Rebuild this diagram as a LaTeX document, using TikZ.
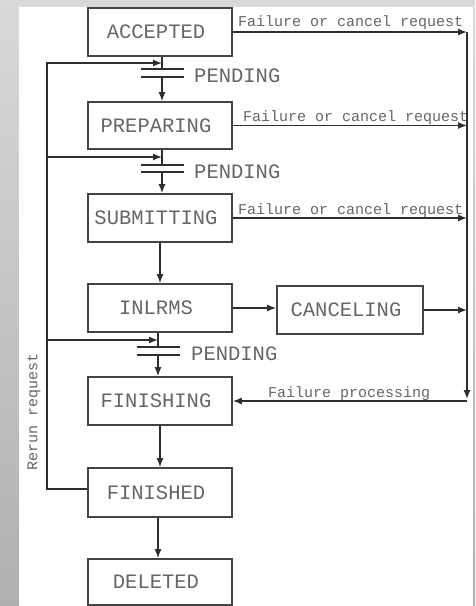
\documentclass[tikz,border=0pt]{standalone}
\usepackage{fontspec}
\setmonofont{Liberation Mono}
\usetikzlibrary{arrows.meta}
\definecolor{linec}{HTML}{2E2E2E}
\definecolor{boxc}{HTML}{444444}
\definecolor{textc}{HTML}{666666}
\definecolor{bgtop}{HTML}{D9D9D9}
\definecolor{bgbot}{HTML}{B0B0B0}
\begin{document}
\begin{tikzpicture}[x=1pt,y=-1pt,
  state/.style={draw=boxc, line width=1.7pt, minimum width=144pt, minimum height=48pt,
    inner sep=0pt, font=\ttfamily\fontsize{20.5}{22}\selectfont, text=textc,
    execute at end node={\kern8pt}},
  flow/.style={draw=linec, line width=1.3pt},
  arr/.style={flow, -{Latex[length=9pt,width=7pt]}},
  lbl/.style={font=\ttfamily\fontsize{15}{16}\selectfont, text=textc, inner sep=0pt},
  pendtext/.style={font=\ttfamily\fontsize{20.5}{22}\selectfont, text=textc, inner sep=0pt, anchor=west},
  bar/.style={draw=linec, line width=1.4pt}]
\useasboundingbox (0,0) rectangle (475,606);
% page background and white sheet
\shade[top color=bgtop, bottom color=bgbot] (0,0) rectangle (475,606);
\fill[white] (19,7) rectangle (473,606);

% states
\node[state] (acc) at (160,32) {ACCEPTED};
\node[state, minimum height=47pt] (prep) at (160,125.5) {PREPARING};
\node[state] (sub) at (160,218) {SUBMITTING};
\node[state] (inl) at (160,308) {INLRMS};
\node[state, minimum width=146pt] (canc) at (350,310) {CANCELING};
\node[state] (fing) at (160,401) {FINISHING};
\node[state, minimum height=49pt] (fin) at (160,492.5) {FINISHED};
\node[state, minimum height=46pt] (del) at (160,582) {DELETED};

% pending gates: upper bar, lower bar, join point of the rerun line
\coordinate (p1a) at (162,69);  \coordinate (p1b) at (162,77);  \coordinate (j1) at (162,63);
\coordinate (p2a) at (162,165); \coordinate (p2b) at (162,172); \coordinate (j2) at (162,157);
\coordinate (p3a) at (158,347); \coordinate (p3b) at (158,355); \coordinate (j3) at (158,340);

\foreach \p in {p1a,p1b,p2a,p2b,p3a,p3b}
  \draw[bar] ([xshift=-21pt]\p) -- ([xshift=22pt]\p);

\node[pendtext] (pt1) at (194,76) {PENDING};
\node[pendtext] (pt2) at (194,172) {PENDING};
\node[pendtext] (pt3) at (191,354) {PENDING};

% main flow
\draw[flow] (acc.south -| p1a) -- (p1a);
\draw[arr] (p1b) -- (prep.north -| p1b);
\draw[flow] (prep.south -| p2a) -- (p2a);
\draw[arr] (p2b) -- (sub.north -| p2b);
\draw[arr] (sub.south) -- (inl.north);
\draw[arr] (inl.east) -- (inl.east -| canc.west);
\draw[flow] (inl.south -| p3a) -- (p3a);
\draw[arr] (p3b) -- (fing.north -| p3b);
\draw[arr] (fing.south) -- (fin.north);
\draw[arr] (fin.south -| 158,0) -- (del.north -| 158,0);

% failure rail on the right
\coordinate (rtop) at (467,32);
\coordinate (rbot) at (467,401);
\draw[arr] (acc.east) -- (acc.east -| rtop);
\draw[arr] (prep.east) -- (prep.east -| rtop);
\draw[arr] (sub.east) -- (sub.east -| rtop);
\draw[arr] (canc.east) -- (canc.east -| rtop);
\draw[arr] (rtop) -- ([yshift=2pt]rbot);
\draw[arr] (rbot) -- (fing.east);

\node[lbl, anchor=base west] (f1) at ([xshift=5pt,yshift=6pt]acc.east) {Failure or cancel request};
\node[lbl, anchor=base west] (f2) at ([xshift=10pt,yshift=4.5pt]prep.east) {Failure or cancel request};
\node[lbl, anchor=base west] (f3) at ([xshift=5pt,yshift=4pt]sub.east) {Failure or cancel request};
\node[lbl, anchor=base west] (f4) at ([xshift=35pt,yshift=4pt]fing.east) {Failure processing};

% rerun loop on the left
\coordinate (lt) at (47,63);
\draw[arr] ([yshift=3.5pt]fin.west) -| (lt) -- (j1);
\draw[arr] (lt |- j2) -- (j2);
\draw[arr] (lt |- j3) -- (j3);
\node[lbl, rotate=90] (rr) at (34,412) {Rerun request};
\end{tikzpicture}
\end{document}
